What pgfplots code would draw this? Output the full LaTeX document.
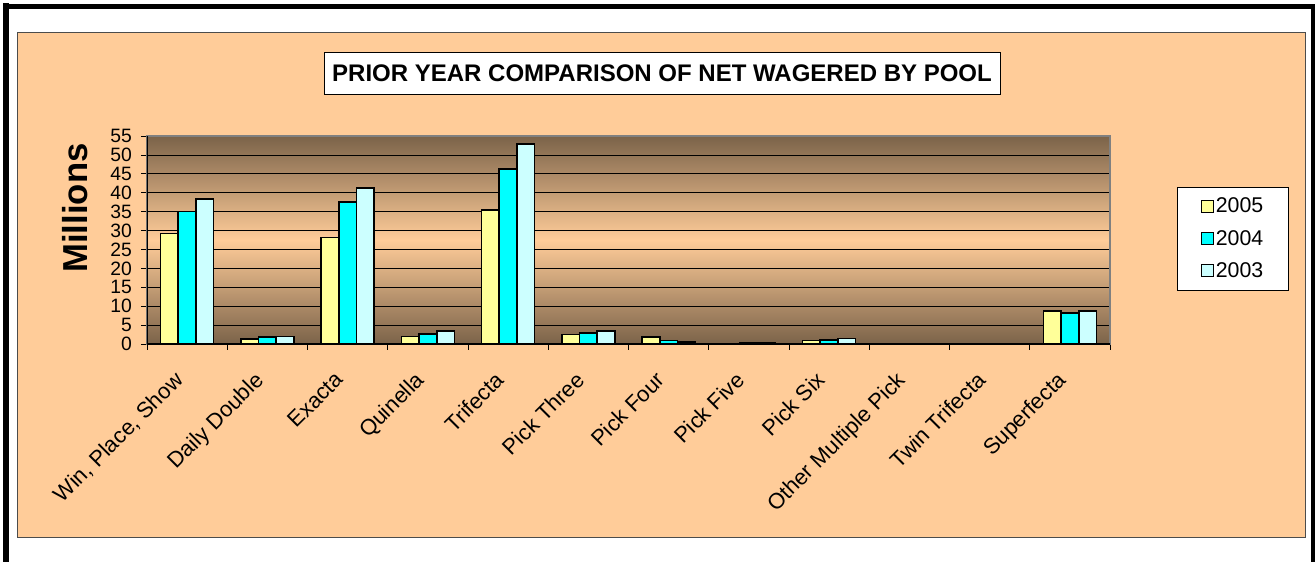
\documentclass[border=0pt]{standalone}
\usepackage{fontspec}
\setmainfont{Liberation Sans}
\usepackage{pgfplots}
\usepackage{pgfplotstable}
\pgfplotsset{compat=1.18}
\definecolor{peach}{HTML}{FFCC99}
\definecolor{brownbg}{HTML}{7B6349}
\definecolor{c05}{HTML}{FFFF99}
\definecolor{c04}{HTML}{00FFFF}
\definecolor{c03}{HTML}{CCFFFF}

\pgfplotstableread{
x  y05   y04   y03
0  29.2  35.0  38.3
1  1.3   1.85  2.0
2  28.2  37.5  41.3
3  2.0   2.6   3.4
4  35.4  46.2  52.9
5  2.5   2.9   3.4
6  1.85  0.9   0.6
7  0.0   0.2   0.2
8  0.88  1.06  1.5
9  0     0     0
10 0     0     0
11 8.65  8.2   8.65
}\datatable

\begin{document}
\begin{tikzpicture}
\useasboundingbox (0,0) rectangle (986.25pt,-421.5pt);
\fill[white] (0,0) rectangle (986.25pt,-421.5pt);
% outer frame
\draw[line width=3.75pt] (2.25pt,-4.875pt) -- (986.25pt,-4.875pt);
\draw[line width=4.5pt] (4.5pt,-2.25pt) -- (4.5pt,-421.5pt);
\draw[line width=3pt] (984.75pt,-3pt) -- (984.75pt,-421.5pt);
% chart area
\fill[gray!60!black] (13.5pt,-24.75pt) rectangle (979.5pt,-403.5pt);
\filldraw[fill=peach, draw=gray!60!black, line width=0.5pt] (12.75pt,-24pt) rectangle (978.75pt,-402.75pt);
% title
\node[draw=black, fill=white, line width=0.75pt, minimum width=507pt, minimum height=31.5pt, inner sep=0pt,
      font=\fontsize{18}{20}\selectfont\bfseries] at (496.5pt,-54.75pt) {PRIOR YEAR COMPARISON OF NET WAGERED BY POOL};
% y label
\node[rotate=90, font=\fontsize{26}{30}\selectfont\bfseries] at (56.25pt,-156pt) {Millions};

\begin{axis}[
  at={(110.25pt,-258pt)}, anchor=south west,
  width=722.25pt, height=156pt, scale only axis,
  xmin=-0.5, xmax=11.5, ymin=0, ymax=55,
  ybar=0pt, bar width=13.275pt,
  ytick={0,5,...,55},
  xtick={-0.5,0.5,...,11.5},
  x tick label as interval,
  xticklabels={{Win, Place, Show},Daily Double,Exacta,Quinella,Trifecta,Pick Three,Pick Four,Pick Five,Pick Six,Other Multiple Pick,Twin Trifecta,Superfecta},
  xticklabel style={rotate=45, anchor=north east, font=\fontsize{16.5}{18}\selectfont, inner sep=1pt, xshift=-17.2pt, yshift=-2.5pt},
  yticklabel style={font=\fontsize{14.5}{16}\selectfont, inner sep=1pt, xshift=-6pt},
  /pgf/number format/assume math mode=true,
  tick pos=left,
  tick align=outside, major tick length=4.2pt,
  tick style={black, line width=0.6pt},
  ymajorgrids, grid style={black, line width=0.6pt},
  axis line style={draw=gray, line width=0.8pt},
  axis background/.style={shade, top color=brownbg, bottom color=brownbg, middle color=peach},
  legend style={at={(1.0696,0.755)}, anchor=north west, draw=black, fill=white, line width=0.6pt,
     font=\fontsize{16}{18}\selectfont, inner xsep=17.5pt, inner ysep=5pt, row sep=5.5pt,
     nodes={inner xsep=1.5pt, inner ysep=3pt}},
  legend image code/.code={\draw[#1, line width=0.8pt] (4pt,-4.5pt) rectangle (13pt,4.5pt);},
  every axis plot/.append style={draw=black, line width=1.2pt},
]
\addplot[fill=c05] table[x=x, y=y05] {\datatable};
\addplot[fill=c04] table[x=x, y=y04] {\datatable};
\addplot[fill=c03] table[x=x, y=y03] {\datatable};
\legend{2005,2004,2003}
\draw[black, line width=0.8pt] (rel axis cs:0,0) -- (rel axis cs:0,1);
\draw[black, line width=0.8pt] (rel axis cs:0,0) -- (rel axis cs:1,0);
\end{axis}
\end{tikzpicture}
\end{document}
